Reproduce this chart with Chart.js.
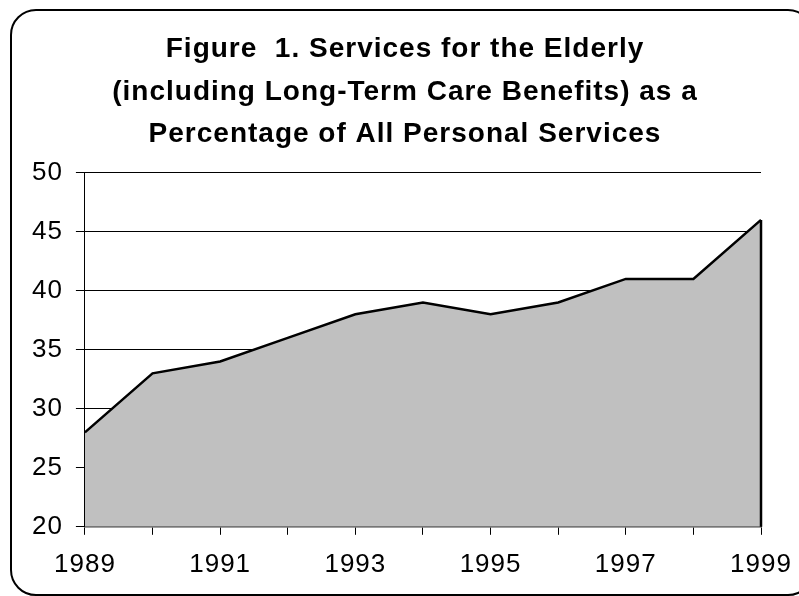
<!DOCTYPE html>
<html>
<head>
<meta charset="utf-8">
<script src="https://cdn.jsdelivr.net/npm/chart.js@4/dist/chart.umd.min.js"></script>
<style>
    body { margin: 0; background: #fff; overflow: hidden; }
    #frame {
        position: absolute; left: 10px; top: 9px; width: 800px; height: 583px;
        border: 2px solid #000; border-radius: 26px; pointer-events: none;
    }
    #wrap { position: absolute; left: 0; top: 0; width: 799px; height: 596px; }
</style>
</head>
<body>
<div id="wrap"><canvas id="myChart" width="799" height="596"></canvas></div>
<div id="frame"></div>
<script>
const years = ['1989', '1990', '1991', '1992', '1993', '1994', '1995', '1996', '1997', '1998', '1999'];
const elderlyShare = [28, 33, 34, 36, 38, 39, 38, 39, 41, 41, 46];
const titleLines = [
    'Figure  1. Services for the Elderly',
    '(including Long-Term Care Benefits) as a',
    'Percentage of All Personal Services'
];

// the original text is a bit wider than Arial, so spread the letters
const wideText = {
    id: 'wideText',
    beforeLayout(chart) { chart.ctx.letterSpacing = '1px'; },
    beforeDraw(chart) { chart.ctx.letterSpacing = '1px'; }
};

// closes the area on the right side like the original
const rightEdge = {
    id: 'rightEdge',
    afterDatasetsDraw(chart) {
        const meta = chart.getDatasetMeta(0);
        const last = meta.data[meta.data.length - 1];
        const ctx = chart.ctx;
        ctx.save();
        ctx.strokeStyle = '#000';
        ctx.lineWidth = 2.5;
        ctx.beginPath();
        ctx.moveTo(last.x, last.y);
        ctx.lineTo(last.x, chart.chartArea.bottom);
        ctx.stroke();
        ctx.restore();
    }
};

const ctx = document.getElementById('myChart').getContext('2d');
new Chart(ctx, {
    type: 'line',
    data: {
        labels: years,
        datasets: [{
            data: elderlyShare,
            borderColor: '#000',
            borderWidth: 2.5,
            backgroundColor: '#c0c0c0',
            fill: 'start',
            pointRadius: 0,
            tension: 0
        }]
    },
    options: {
        responsive: false,
        animation: false,
        layout: { padding: { left: 19, right: 8, top: 0, bottom: 2 } },
        plugins: {
            legend: { display: false },
            tooltip: { enabled: false },
            title: {
                display: true,
                text: titleLines,
                color: '#000',
                font: { family: 'Arial, "Liberation Sans"', size: 28, weight: 'bold', lineHeight: 1.52 },
                padding: { top: 28, bottom: 17 }
            }
        },
        scales: {
            x: {
                offset: false,
                afterFit: function (scale) {
                    // let the last label run closer to the edge
                    scale.paddingRight = 38;
                },
                grid: { drawOnChartArea: false, drawTicks: true, tickLength: 8, color: '#000' },
                border: { color: '#404040', width: 1.5 },
                ticks: {
                    autoSkip: false,
                    maxRotation: 0,
                    color: '#000',
                    padding: 14,
                    font: { family: 'Arial, "Liberation Sans"', size: 26 },
                    callback: function (value, index) {
                        return index % 2 === 0 ? years[index] : '';
                    }
                }
            },
            y: {
                min: 20,
                max: 50,
                grid: { color: '#000', lineWidth: 1, tickLength: 9 },
                border: { color: '#000', width: 1 },
                ticks: {
                    stepSize: 5,
                    color: '#000',
                    padding: 13,
                    font: { family: 'Arial, "Liberation Sans"', size: 26 }
                }
            }
        }
    },
    plugins: [wideText, rightEdge]
});
</script>
</body>
</html>
